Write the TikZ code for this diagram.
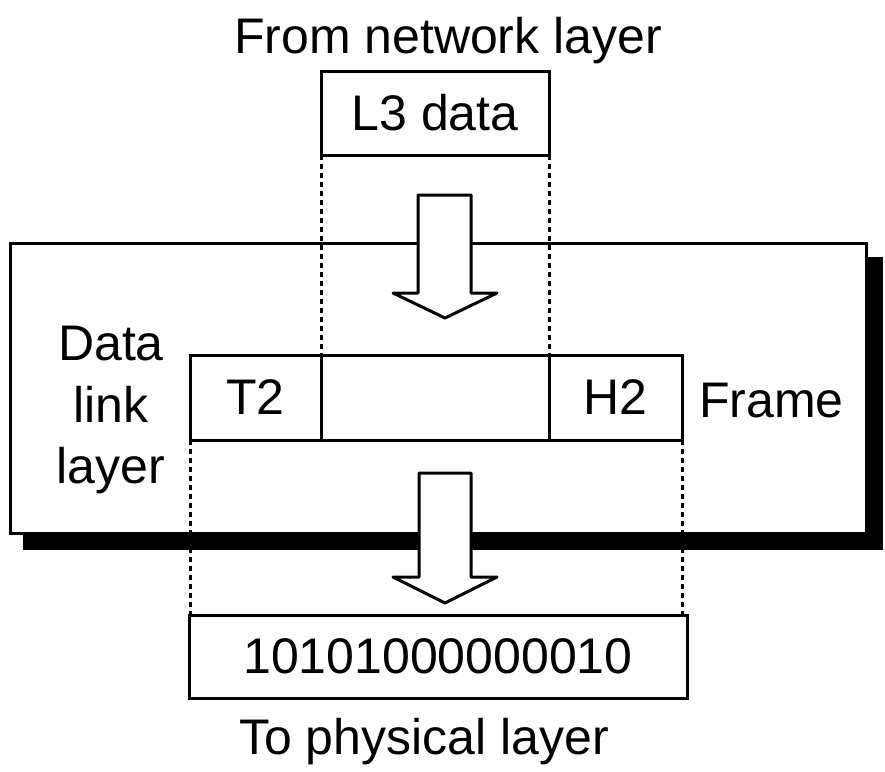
\documentclass[tikz,border=0pt]{standalone}
\usepackage{fontspec}
\setmainfont{Liberation Sans}
\pgfdeclarelayer{bg}
\pgfsetlayers{bg,main}
\begin{document}
\begin{tikzpicture}[x=1pt,y=-1pt,
  box/.style={draw, line width=3pt, fill=white, inner sep=0pt, outer sep=0pt,
    font=\fontsize{50}{61}\selectfont},
  lbl/.style={inner sep=0pt, font=\fontsize{50}{61}\selectfont},
  dline/.style={line width=3pt, dash pattern=on 5pt off 4pt},
  bigarrow/.style={draw, line width=3pt, fill=white, line join=round}]
\useasboundingbox (0,0) rectangle (885,771);

% data link layer box with shadow
\node[box, minimum width=856pt, minimum height=290pt] (dl) at (438,388) {};
\begin{pgfonlayer}{bg}
  \fill ([shift={(13,14)}]dl.north west) rectangle ([shift={(17,17)}]dl.south east);
\end{pgfonlayer}

% L3 data
\node[box, minimum width=228pt, minimum height=84pt] (l3) at (435,113) {L3 data};

% frame cells
\node[box, minimum width=131pt, minimum height=85pt] (t2) at (255.5,397.5) {T2};
\node[box, minimum width=228pt, minimum height=85pt] (mid) at (435,397.5) {};
\node[box, minimum width=133pt, minimum height=85pt] (h2) at (615.5,397.5) {H2};

% bits
\node[box, minimum width=498pt, minimum height=83pt] (bits) at (438,656.5) {10101000000010};

% dashed guide lines
\draw[dline] (l3.south west) -- (mid.north west);
\draw[dline] (l3.south east) -- (mid.north east);
\draw[dline] (t2.south west) -- (t2.south west |- bits.north);
\draw[dline] (h2.south east) -- (h2.south east |- bits.north);

% block arrows
\draw[bigarrow] (418,195) -- (471,195) -- (471,293) -- (497,293) -- (445,318)
  -- (393,293) -- (418,293) -- cycle;
\draw[bigarrow] (419,473) -- (471,473) -- (471,577) -- (497,577) -- (445,603)
  -- (393,577) -- (419,577) -- cycle;

% labels
\node[lbl, anchor=base] (from) at (448,53) {From network layer};
\node[lbl, anchor=base] (to) at (424,754) {To physical layer};
\node[lbl, anchor=base west] (framelbl) at (699,417) {Frame};
\node[lbl, anchor=base] (dla) at (111,360) {Data};
\node[lbl, anchor=base] (dlb) at (111,422) {link};
\node[lbl, anchor=base] (dlc) at (111,483) {layer};
\end{tikzpicture}
\end{document}
